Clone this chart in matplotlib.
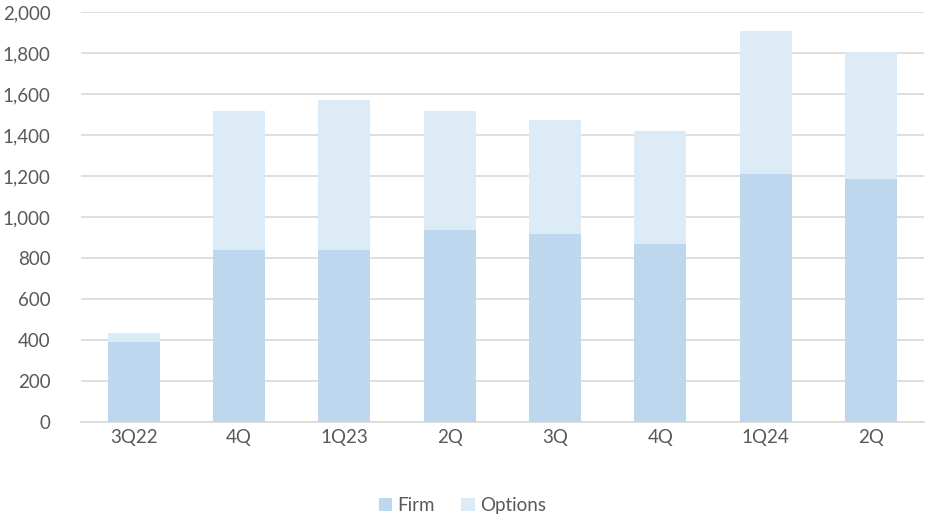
import matplotlib
matplotlib.use("Agg")
import matplotlib.pyplot as plt
from matplotlib.ticker import FuncFormatter

quarters = ["3Q22", "4Q", "1Q23", "2Q", "3Q", "4Q", "1Q24", "2Q"]
firm = [390, 839, 839, 937, 917, 867, 1210, 1185]
options = [45, 678, 732, 580, 556, 553, 697, 620]

FIRM_COLOR = "#BDD7EE"
OPTIONS_COLOR = "#DDEBF7"
TEXT_COLOR = "#595959"
GRID_COLOR = "#D9D9D9"

plt.rcParams["font.family"] = ["Lato", "DejaVu Sans"]

fig = plt.figure(figsize=(9.25, 5.17), dpi=100)
ax = fig.add_axes([0.0876, 0.184, 0.911, 0.793])

x = list(range(len(quarters)))
ax.bar(x, firm, width=0.494, color=FIRM_COLOR, label="Firm", zorder=3)
ax.bar(x, options, width=0.494, bottom=firm, color=OPTIONS_COLOR,
       label="Options", zorder=3)

ax.set_xlim(-0.5, len(quarters) - 0.5)
ax.set_ylim(0, 2000)
ax.set_yticks(range(0, 2001, 200))
ax.yaxis.set_major_formatter(FuncFormatter(lambda v, p: f"{int(v):,}"))
ax.set_xticks(x)
ax.set_xticklabels(quarters)

ax.grid(axis="y", color=GRID_COLOR, linewidth=1.2, zorder=0)
for side in ["top", "right", "left"]:
    ax.spines[side].set_visible(False)
ax.spines["bottom"].set_color(GRID_COLOR)
ax.spines["bottom"].set_linewidth(1.2)
ax.tick_params(axis="both", length=0, labelsize=13.5, colors=TEXT_COLOR)
ax.tick_params(axis="y", pad=22)
ax.tick_params(axis="x", pad=5)

leg = fig.legend(loc="lower center", bbox_to_anchor=(0.5, -0.027), ncol=2,
                 frameon=False, fontsize=13.5, handlelength=0.7,
                 handleheight=0.7, handletextpad=0.3, columnspacing=1.4)
for t in leg.get_texts():
    t.set_color(TEXT_COLOR)

fig.savefig("out.png", dpi=100)
